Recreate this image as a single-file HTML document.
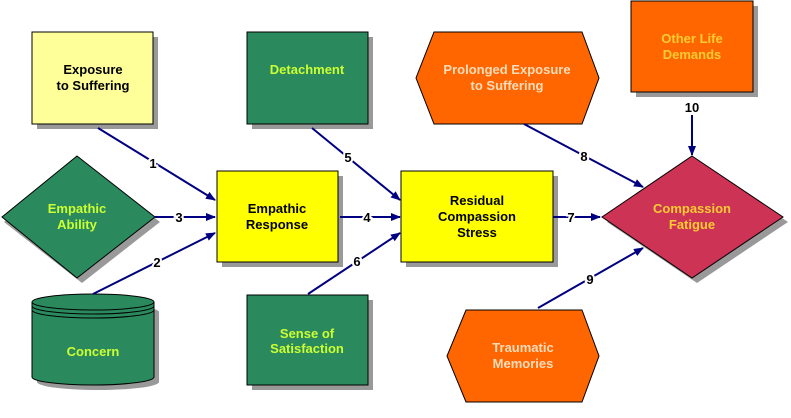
<!DOCTYPE html>
<html><head><style>body{margin:0;background:#fff}svg{display:block}text{font-family:"Liberation Sans",sans-serif;font-weight:bold;font-size:13px;text-anchor:middle}</style></head><body>
<svg width="791" height="418" viewBox="0 0 791 418">
<defs><marker id="a" markerWidth="10" markerHeight="8" refX="9" refY="4" orient="auto" markerUnits="userSpaceOnUse"><path d="M0,0L10,4L0,8z" fill="#000080"/></marker></defs>
<g fill="#999">
<rect x="37" y="37" width="121" height="92"/><rect x="252" y="37" width="121" height="92"/>
<rect x="222" y="176" width="121" height="91"/><rect x="406" y="176" width="152" height="91"/>
<rect x="252" y="300" width="121" height="90"/><rect x="636" y="6" width="122" height="91"/>
<polygon points="82,161 160,222 82,283 4,222"/><polygon points="697,161 788,222 697,283 607,222"/>
<rect x="37" y="304" width="122" height="86" rx="61" ry="8"/>
</g>
<g stroke="#000" stroke-width="1">
<rect x="32" y="32" width="121" height="92" fill="#ffff99"/>
<rect x="247" y="32" width="121" height="92" fill="#2a8a5e"/>
<rect x="217" y="171" width="121" height="91" fill="#ffff00"/>
<rect x="401" y="171" width="152" height="91" fill="#ffff00"/>
<rect x="247" y="295" width="121" height="90" fill="#2a8a5e"/>
<rect x="631" y="1" width="122" height="91" fill="#ff6600"/>
<polygon points="77,156 155,217 77,278 2,217" fill="#2a8a5e"/>
<polygon points="692,156 783,217 692,278 602,217" fill="#cc3355"/>
<polygon points="434,32 582,32 599,78 582,124 434,124 416,78" fill="#ff6600"/>
<polygon points="466,310 582,310 599,356 582,402 466,402 447,356" fill="#ff6600"/>
<path d="M32,302 L32,377 A61,8 0 0 0 154,377 L154,302" fill="#2a8a5e"/>
<ellipse cx="93" cy="302" rx="61" ry="8" fill="#2a8a5e"/>
<path d="M32,306 A61,8 0 0 0 154,306 M32,310 A61,8 0 0 0 154,310" fill="none"/>
</g>
<g stroke="#000080" stroke-width="2" marker-end="url(#a)">
<line x1="98" y1="128" x2="215" y2="200"/><line x1="155" y1="217" x2="215" y2="217"/>
<line x1="93" y1="294" x2="215" y2="233"/><line x1="340" y1="217" x2="400" y2="217"/>
<line x1="312" y1="128" x2="400" y2="200"/><line x1="308" y1="294" x2="400" y2="233"/>
<line x1="553" y1="217" x2="600" y2="217"/><line x1="524" y1="124" x2="643" y2="187"/>
<line x1="538" y1="308" x2="643" y2="248"/><line x1="692" y1="115" x2="692" y2="155"/>
</g>
<g fill="#000" stroke="#fff" stroke-width="4" paint-order="stroke" font-size="12">
<text x="153" y="168">1</text><text x="179" y="222">3</text><text x="157" y="267">2</text>
<text x="367" y="222">4</text><text x="348" y="162">5</text><text x="357" y="266">6</text>
<text x="571" y="222">7</text><text x="584" y="161">8</text><text x="590" y="284">9</text>
<text x="692" y="112">10</text>
</g>
<text x="93" y="74" fill="#000">Exposure</text><text x="93" y="90" fill="#000">to Suffering</text>
<text x="307" y="74" fill="#ccff33">Detachment</text>
<text x="77" y="213" fill="#ccff33">Empathic</text><text x="77" y="229" fill="#ccff33">Ability</text>
<text x="93" y="356" fill="#ccff33">Concern</text>
<text x="277" y="213" fill="#000">Empathic</text><text x="277" y="229" fill="#000">Response</text>
<text x="307" y="338" fill="#ccff33">Sense of</text><text x="307" y="353" fill="#ccff33">Satisfaction</text>
<text x="477" y="205" fill="#000">Residual</text><text x="477" y="221" fill="#000">Compassion</text><text x="477" y="237" fill="#000">Stress</text>
<text x="507" y="74" fill="#ffddbb">Prolonged Exposure</text><text x="507" y="90" fill="#ffddbb">to Suffering</text>
<text x="692" y="43" fill="#ffcc33">Other Life</text><text x="692" y="59" fill="#ffcc33">Demands</text>
<text x="692" y="213" fill="#ffcc33">Compassion</text><text x="692" y="229" fill="#ffcc33">Fatigue</text>
<text x="523" y="352" fill="#ffddbb">Traumatic</text><text x="523" y="368" fill="#ffddbb">Memories</text>
</svg>
</body></html>
